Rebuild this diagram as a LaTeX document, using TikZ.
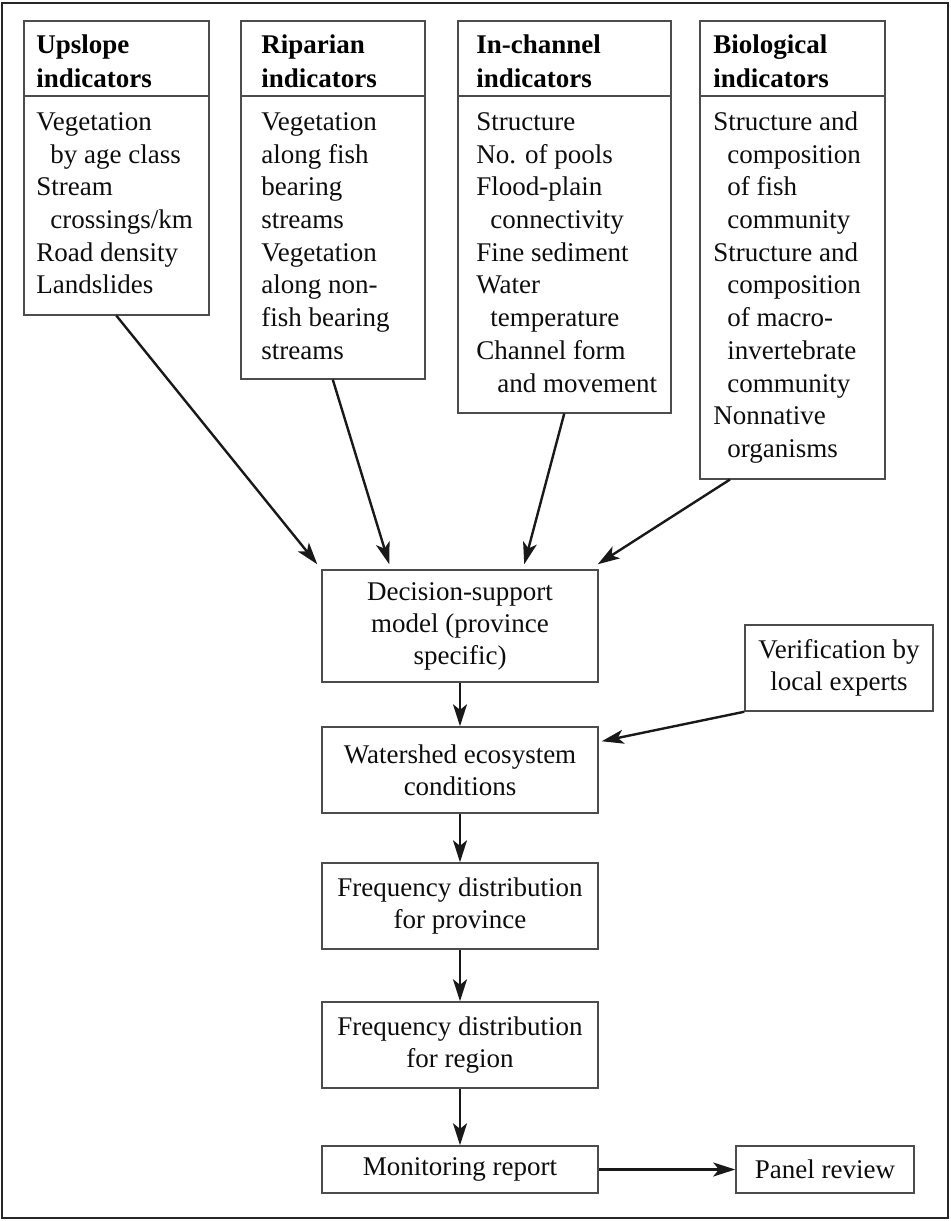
\documentclass[tikz,border=0pt]{standalone}
\usepackage{fontspec}
\setmainfont{Liberation Serif}
\usetikzlibrary{arrows.meta,calc}
% strut that fixes the height of the first line of a text block
\newcommand\firstline{\rule{0pt}{16pt}}
\newcommand\ind{\hspace*{7pt}}

\begin{document}
\begin{tikzpicture}[x=0.5pt,y=-0.5pt,
  outerframe/.style={draw=black!85, line width=1pt},
  boxline/.style={draw=black!70, line width=0.75pt},
  catbox/.style={boxline, inner sep=0pt, anchor=north west},
  hdr/.style={anchor=north west, inner sep=0pt, align=left, text=black,
    font=\fontsize{13.5pt}{17pt}\selectfont\bfseries},
  body/.style={anchor=north west, inner sep=0pt, align=left, text=black!95,
    font=\fontsize{13.5pt}{16.35pt}\selectfont},
  flowbox/.style={boxline, inner sep=0pt, align=center, text=black!95,
    font=\fontsize{13.5pt}{16pt}\selectfont},
  arr/.style={draw=black!90, line width=1.2pt,
    -{Stealth[length=11pt,width=7pt,inset=2.8pt]}}]

\useasboundingbox (0,0) rectangle (950,1221);
\draw[outerframe] (2,3) rectangle (948,1218);

% indicator categories
\coordinate (div) at (0,96);
\node[catbox, minimum width=92.5pt, minimum height=147pt] (up) at (23,20) {};
\node[catbox, minimum width=92pt,   minimum height=179pt] (rip) at (240,20) {};
\node[catbox, minimum width=106.5pt,minimum height=196pt] (inc) at (457,20) {};
\node[catbox, minimum width=92.5pt, minimum height=229pt] (bio) at (699,20) {};
\foreach \b in {up,rip,inc,bio}
  \draw[boxline] (\b.west |- div) -- (\b.east |- div);

\node[hdr] (up-h) at (36,21) {\firstline Upslope\\indicators};
\node[body] (up-b) at (36,98) {\firstline Vegetation\\\ind by age class\\Stream\\
  \ind crossings/km\\Road density\\Landslides};

\node[hdr] (rip-h) at (261,21) {\firstline Riparian\\indicators};
\node[body] (rip-b) at (261,98) {\firstline Vegetation\\along fish\\bearing\\streams\\
  Vegetation\\along non-\\fish bearing\\streams};

\node[hdr] (inc-h) at (476,21) {\firstline In-channel\\indicators};
\node[body] (inc-b) at (476,98) {\firstline Structure\\No. of pools\\Flood-plain\\
  \ind connectivity\\Fine sediment\\Water\\\ind temperature\\Channel form\\
  \hspace*{10.5pt}and movement};

\node[hdr] (bio-h) at (713,21) {\firstline Biological\\indicators};
\node[body] (bio-b) at (713,98) {\firstline Structure and\\\ind composition\\
  \ind of fish\\\ind community\\Structure and\\\ind composition\\\ind of macro-\\
  \ind invertebrate\\\ind community\\Nonnative\\\ind organisms};

% processing chain
\node[flowbox, minimum width=138pt, minimum height=56pt] (dec) at (460,626)
  {Decision-support\\model (province\\specific)};
\node[flowbox, minimum width=94pt, minimum height=43pt] (ver) at (839,668)
  {Verification by\\local experts};
\node[flowbox, minimum width=138pt, minimum height=43pt] (ws) at (460,770)
  {Watershed ecosystem\\conditions};
\node[flowbox, minimum width=138pt, minimum height=43pt] (fp) at (460,906)
  {Frequency distribution\\for province};
\node[flowbox, minimum width=138pt, minimum height=43pt] (fr) at (460,1045)
  {Frequency distribution\\for region};
\node[flowbox, minimum width=138pt, minimum height=23.5pt] (mon) at (460,1169.5)
  {Monitoring report};
\node[flowbox, minimum width=89pt, minimum height=23.5pt] (pan) at (825,1169.5)
  {Panel review};

% connectors
\draw[arr] (up.south) -- ($(dec.north west)+(-4,-5)$);
\draw[arr] (rip.south) -- ($(dec.north west)+(68,-5)$);
\draw[arr] (inc.south) -- ($(dec.north west)+(203,-5)$);
\draw[arr] ($(bio.south west)+(31,0)$) -- ($(dec.north east)+(-1,-5)$);
\draw[arr] (dec.south) -- (ws.north);
\draw[arr] (ver.south west) -- ($(ws.north east)+(3,15)$);
\draw[arr] (ws.south) -- (fp.north);
\draw[arr] (fp.south) -- (fr.north);
\draw[arr] (fr.south) -- (mon.north);
\draw[arr] (mon.east) -- (pan.west);
\end{tikzpicture}
\end{document}
